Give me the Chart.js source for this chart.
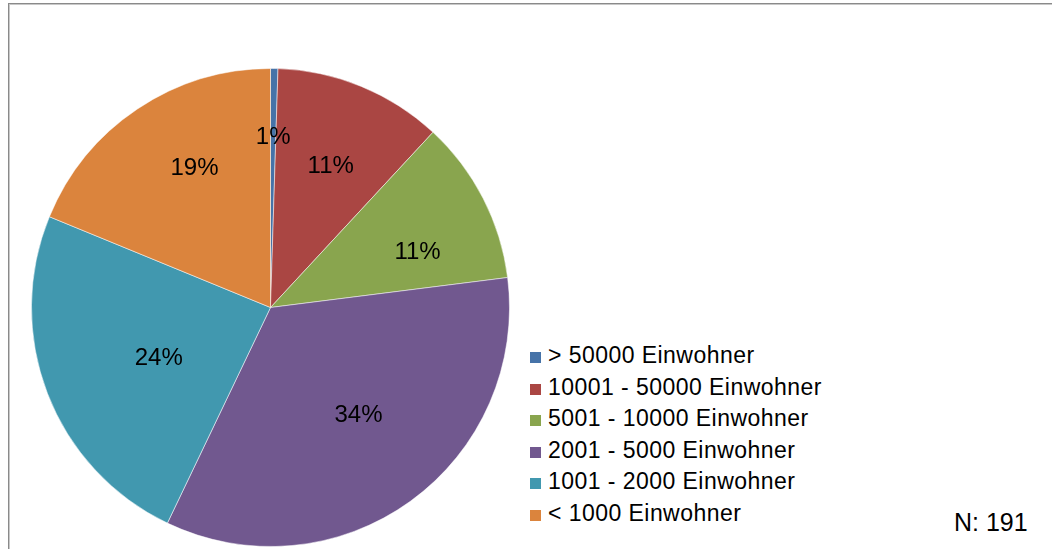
<!DOCTYPE html>
<html>
<head>
<meta charset="utf-8">
<script src="https://cdn.jsdelivr.net/npm/chart.js@4"></script>
<style>
  html, body { margin: 0; padding: 0; background: #fff; }
  body { width: 1052px; height: 549px; position: relative; overflow: hidden;
         font-family: "Liberation Sans", Arial, sans-serif; }
  #frame { position: absolute; left: 8px; top: 3px; width: 1100px; height: 600px;
           border: 1px solid #8a8a8a; box-shadow: inset 1px 1px 0 #c8c8c8; }
  #pieBox { position: absolute; left: 31px; top: 68px; width: 479px; height: 479px; }
  #legend { position: absolute; left: 530px; top: 343px; }
  .item { height: 31.5px; line-height: 24px; font-size: 23px; letter-spacing: 0.45px;
          color: #000; white-space: nowrap; }
  .swatch { display: inline-block; width: 11px; height: 11px; margin-right: 7px; vertical-align: 0px; }
  #note { position: absolute; left: 954px; top: 508px; font-size: 25px; color: #000; }
</style>
</head>
<body>
<div id="frame"></div>
<div id="pieBox"><canvas id="pie" width="479" height="479"></canvas></div>
<div id="legend"></div>
<div id="note"></div>
<script>
// Gemeindegrößen, N = 191 (slice shares in %)
const categories = ['> 50000 Einwohner', '10001 - 50000 Einwohner', '5001 - 10000 Einwohner',
                    '2001 - 5000 Einwohner', '1001 - 2000 Einwohner', '< 1000 Einwohner'];
const shares = [0.5, 11.4, 11.1, 34.1, 24.1, 18.8];
const percentLabels = ['1%', '11%', '11%', '34%', '24%', '19%'];
const sampleSize = 191;

const colors = ['#4673A8', '#AA4643', '#89A54E', '#71588F', '#4198AF', '#DB843D'];
// how far out (fraction of radius) each percentage sits, and a small angle nudge
const labelRadius = [0.72, 0.65, 0.66, 0.575, 0.51, 0.67];
const labelShift = [0, 0.5, 6, -4, -2.5, 5.5]; // degrees

const pctLabels = {
    id: 'pctLabels',
    afterDatasetsDraw(chart) {
        const ctx = chart.ctx;
        const meta = chart.getDatasetMeta(0);
        ctx.save();
        ctx.font = '24px "Liberation Sans", Arial, sans-serif';
        ctx.fillStyle = '#000';
        ctx.textAlign = 'center';
        ctx.textBaseline = 'middle';
        meta.data.forEach((arc, i) => {
            const p = arc.getProps(['x', 'y', 'startAngle', 'endAngle', 'outerRadius'], true);
            const mid = (p.startAngle + p.endAngle) / 2 + labelShift[i] * Math.PI / 180;
            const r = p.outerRadius * labelRadius[i];
            ctx.fillText(percentLabels[i], p.x + Math.cos(mid) * r, p.y + Math.sin(mid) * r + 2);
        });
        ctx.restore();
    }
};

new Chart(document.getElementById('pie').getContext('2d'), {
    type: 'pie',
    data: {
        labels: categories,
        datasets: [{
            data: shares,
            backgroundColor: colors,
            borderColor: 'rgba(255,255,255,0.5)',
            borderWidth: 1
        }]
    },
    options: {
        responsive: false,
        animation: false,
        layout: { padding: 0 },
        plugins: {
            legend: { display: false },
            tooltip: { enabled: false }
        }
    },
    plugins: [pctLabels]
});

// legend as plain html text
const legendEl = document.getElementById('legend');
categories.forEach((name, i) => {
    const row = document.createElement('div');
    row.className = 'item';
    row.innerHTML = '<span class="swatch" style="background:' + colors[i] + '"></span>' + name;
    legendEl.appendChild(row);
});
document.getElementById('note').textContent = 'N: ' + sampleSize;
</script>
</body>
</html>
